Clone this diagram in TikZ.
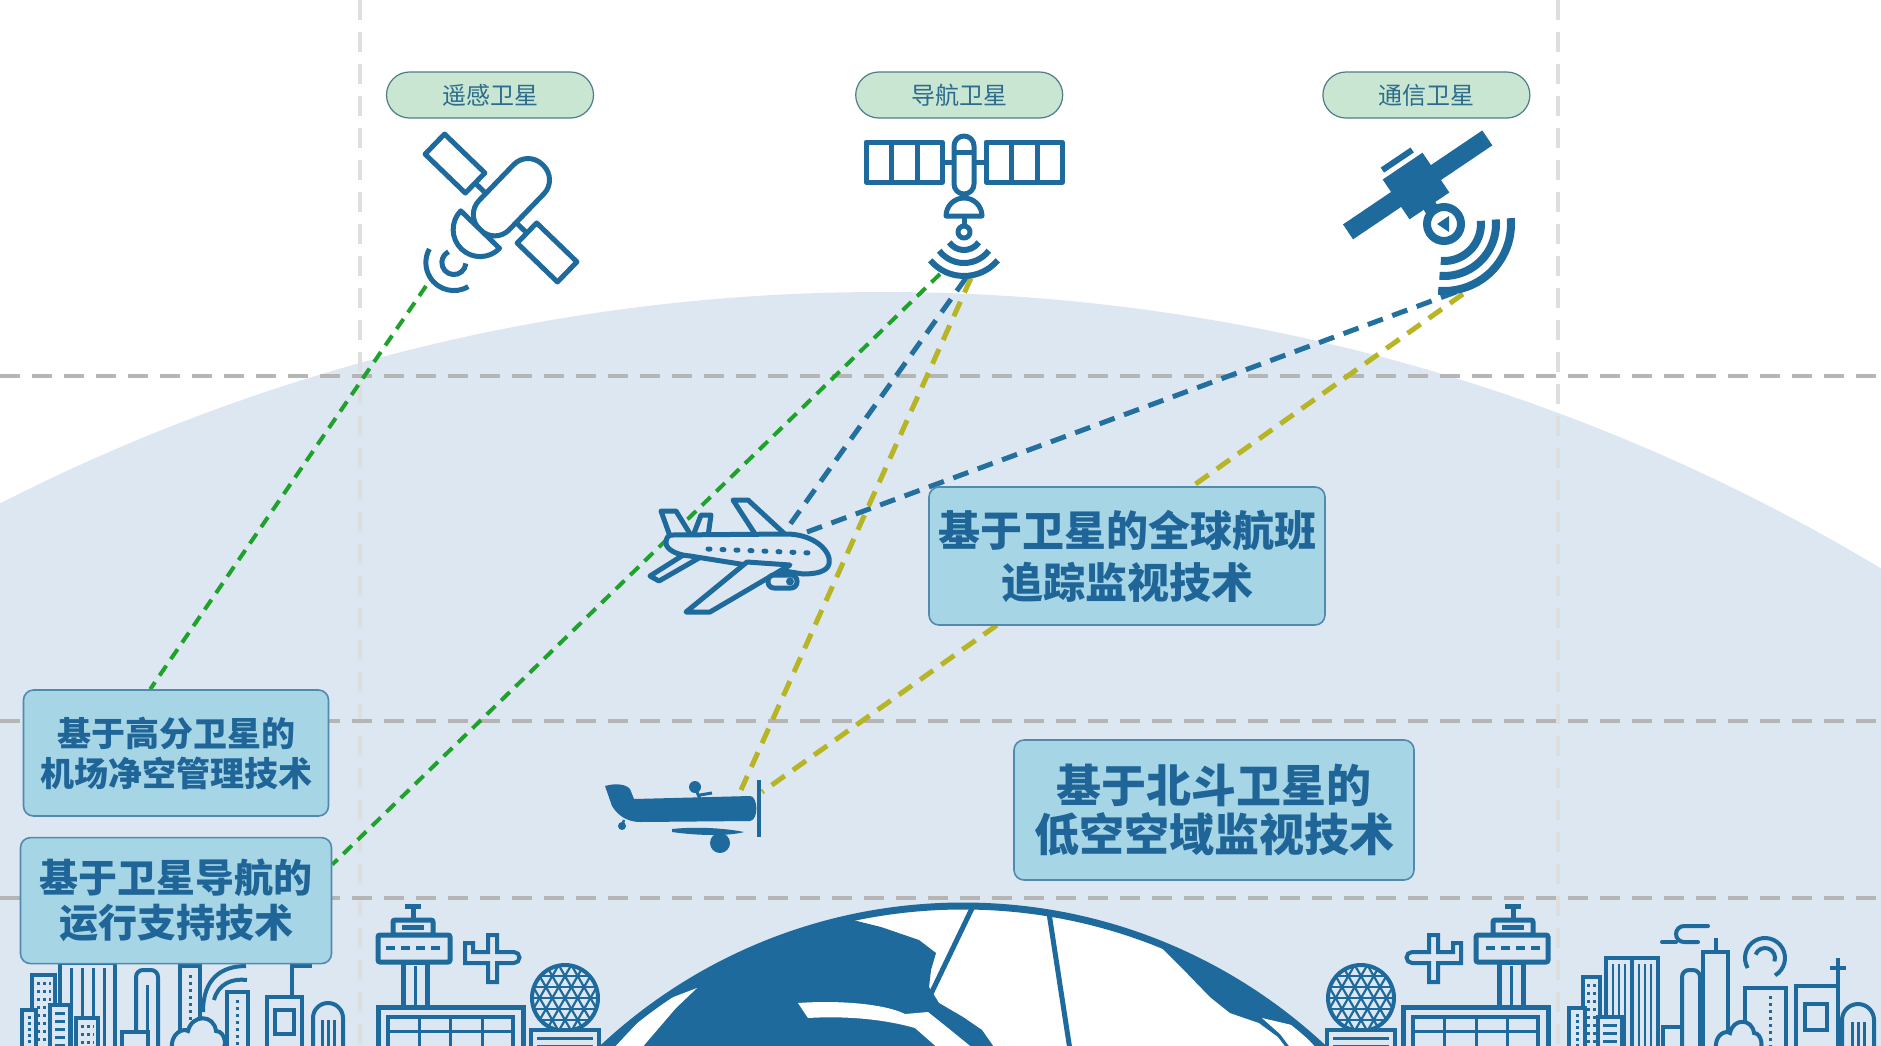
\documentclass[tikz,border=0pt]{standalone}
\usepackage{fontspec}
\newfontfamily\cjk{Noto Sans CJK SC}
\usetikzlibrary{positioning}
\pgfdeclarelayer{back}
\pgfdeclarelayer{links}
\pgfsetlayers{back,links,main}
\definecolor{sky}{HTML}{DDE7F1}
\definecolor{iconblue}{HTML}{1E6A9C}
\definecolor{techfill}{HTML}{A6D5E5}
\definecolor{techborder}{HTML}{5289AE}
\definecolor{techtext}{HTML}{1F6597}
\definecolor{pillfill}{HTML}{C8E6D1}
\definecolor{pillborder}{HTML}{4F7C8C}
\definecolor{pilltext}{HTML}{2C6C8C}
\definecolor{gridh}{HTML}{B5B5B5}
\definecolor{gridv}{HTML}{DEDEDE}
\definecolor{linkgreen}{HTML}{1FA22B}
\definecolor{linkblue}{HTML}{23709F}
\definecolor{linkolive}{HTML}{B7B426}

\begin{document}
\begin{tikzpicture}[
    x=1pt, y=-1pt,
    line join=round,
    sat/.style={draw=pillborder, fill=pillfill, line width=1.2pt, rounded corners=23pt,
                minimum width=207pt, minimum height=46pt, inner sep=0pt,
                font=\cjk\fontsize{24}{28}\selectfont, text=pilltext},
    tech/.style={draw=techborder, fill=techfill, line width=1.6pt, rounded corners=10pt,
                 inner sep=0pt, align=center, text=techtext},
    guide/.style={line width=4pt, dash pattern=on 20pt off 12pt},
    link/.style={line width=5pt, dash pattern=on 16pt off 10pt},
    icon/.style={draw=iconblue, line width=5pt, fill=sky},
    spaceicon/.style={draw=iconblue, line width=5pt, fill=white},
    city/.style={draw=iconblue, line width=4pt, fill=sky},
    win/.style={draw=iconblue, line width=3pt},
]

\useasboundingbox (0,0) rectangle (1881,1045);

\begin{pgfonlayer}{back}
\fill[white] (0,0) rectangle (1881,1045);
\begin{scope}
  \clip (0,0) rectangle (1881,1045);
  \fill[sky] (882,2233) circle[radius=1941];
\end{scope}
\foreach \x in {360,1558} \draw[guide, gridv] (\x,0) -- (\x,1045);
\foreach \y in {376,721,898} \draw[guide, gridh] (0,\y) -- (1881,\y);

% globe
\begin{scope}
  \clip (963,1434) circle[radius=528];
  \fill[white] (963,1434) circle[radius=528];
  \draw[iconblue, line width=5pt] (976,900) -- (928,1000);
  \draw[iconblue, line width=5pt] (1047,900) -- (1070,1050);
  \fill[iconblue] (845,918) -- (881,927) -- (919,940) -- (936,953) -- (931,970)
    -- (929,987) -- (939,1003) -- (963,1017) -- (982,1030) -- (996,1050)
    -- (400,1050) -- (400,900) -- cycle;
  \fill[white] (612,1050) -- (655,1004) -- (697,988) -- (676,1008) -- (640,1050) -- cycle;
  \fill[white] (798,1003) .. controls (840,1000) and (885,1004) .. (905,1014)
    -- (928,1012) -- (948,1028) -- (975,1050) -- (940,1050) -- (915,1028)
    .. controls (880,1018) and (840,1016) .. (808,1018) -- cycle;
  \fill[iconblue] (1150,940) -- (1162,948) -- (1181,967) -- (1210,997) -- (1230,1013)
    -- (1259,1023) -- (1278,1037) -- (1288,1050) -- (1600,1050) -- (1600,900) -- cycle;
  \fill[white] (1262,1018) -- (1296,1026) -- (1318,1050) -- (1292,1050) -- (1280,1034) -- cycle;
\end{scope}
\draw[iconblue, line width=7pt] (963,1434) circle[radius=528];

% airports, mirrored about the globe axis
\foreach \s in {1,-1} {
\begin{scope}[shift={(963,0)}, xscale=\s]
  % control tower
  \draw[iconblue, line width=5pt] (-558,906) -- (-542,906) (-550,906) -- (-550,920);
  \draw[icon, rounded corners=2pt] (-570,920) rectangle (-530,935);
  \fill[iconblue] (-561,925) rectangle (-539,930);
  \draw[icon, rounded corners=2pt] (-585,935) rectangle (-513,962);
  \draw[iconblue, line width=4pt, dash pattern=on 9pt off 6pt] (-577,948) -- (-520,948);
  \draw[icon] (-560,962) rectangle (-536,1007);
  \draw[win] (-548,966) -- (-548,1007);
  % terminal
  \draw[icon] (-585,1007) rectangle (-440,1055);
  \draw[city] (-575,1017) rectangle (-450,1055);
  \foreach \x in {-544,-513,-481} \draw[win] (\x,1017) -- (\x,1055);
  \draw[win] (-575,1031) -- (-450,1031);
  % small plane
  \draw[icon, line width=4pt] (-498,943) -- (-490,943) -- (-490,952) -- (-475,952)
    -- (-475,935) -- (-466,935) -- (-466,952) -- (-449,952)
    arc[start angle=-90, end angle=90, radius=5.5] -- (-466,963) -- (-466,982)
    -- (-475,982) -- (-475,963) -- (-498,963) -- cycle;
  % radar dome
  \begin{scope}
    \clip (-398,998) circle[radius=32];
    \foreach \k in {-5,...,5} {
      \draw[iconblue, line width=2.2pt] (-440,998+11*\k) -- (-356,998+11*\k);
      \draw[iconblue, line width=2.2pt] (-438+12.7*\k,928.7) -- (-358+12.7*\k,1067.3);
      \draw[iconblue, line width=2.2pt] (-438+12.7*\k,1067.3) -- (-358+12.7*\k,928.7);
    }
  \end{scope}
  \draw[iconblue, line width=4pt] (-398,998) circle[radius=33];
  \draw[city] (-432,1030) rectangle (-364,1055);
  \draw[win] (-426,1038) -- (-370,1038) (-426,1046) -- (-370,1046);
\end{scope}
}

% left skyline
\draw[city] (60,963) rectangle (115,1055);
\foreach \x in {71,82,93,104} \draw[win] (\x,968) -- (\x,1055);
\draw[city] (32,975) rectangle (55,1055);
\foreach \y in {983,991,...,1045} \draw[win, dash pattern=on 3pt off 3pt] (37,\y) -- (51,\y);
\draw[city] (22,1010) rectangle (36,1055);
\draw[win, dash pattern=on 3pt off 3pt] (29,1016) -- (29,1050);
\draw[city] (50,1005) rectangle (70,1055);
\foreach \y in {1013,1021,...,1045} \draw[win] (55,\y) -- (65,\y);
\draw[city] (76,1018) rectangle (98,1055);
\foreach \y in {1026,1034,1042} \draw[win, dash pattern=on 3pt off 3pt] (81,\y) -- (94,\y);
\draw[city, rounded corners=7pt] (136,1055) -- (136,970) -- (158,970) -- (158,1055);
\draw[win] (147,985) -- (147,1055);
\draw[city] (122,1032) rectangle (148,1055);
\draw[iconblue, line width=4pt] (203,1012) .. controls (203,978) and (222,966) .. (246,966);
\draw[iconblue, line width=4pt] (214,1000) .. controls (218,984) and (232,978) .. (247,980);
\draw[city] (180,966) rectangle (200,1055);
\draw[win, dash pattern=on 3pt off 4pt] (190,975) -- (190,1050);
\draw[city] (227,992) rectangle (248,1055);
\draw[win, dash pattern=on 3pt off 4pt] (237,1000) -- (237,1050);
\draw[city] (172,1050) .. controls (170,1032) and (184,1028) .. (188,1031)
  .. controls (192,1014) and (214,1014) .. (216,1031)
  .. controls (226,1031) and (228,1050) .. (220,1050) -- cycle;
\draw[iconblue, line width=4pt] (292,998) -- (292,966) -- (312,966);
\draw[city] (267,1055) -- (267,997) -- (302,997) -- (302,1055);
\draw[city] (275,1010) rectangle (294,1034);
\draw[city] (313,1055) -- (313,1018) arc[start angle=180, end angle=360, radius=15] -- (343,1055);
\foreach \x in {322,328,334} \draw[win] (\x,1020) -- (\x,1055);

% right skyline
\draw[iconblue, line width=4pt, line cap=round] (1708,926) -- (1684,926)
  arc[start angle=270, end angle=90, radius=8] -- (1698,942);
\draw[iconblue, line width=4pt, line cap=round] (1662,942) -- (1676,942);
\draw[city] (1606,958) rectangle (1632,1055);
\draw[city] (1632,958) rectangle (1658,1055);
\foreach \x in {1613,1619,1625,1639,1645,1651} \draw[win, line width=2.5pt] (\x,964) -- (\x,1055);
\draw[city] (1583,977) rectangle (1600,1055);
\foreach \y in {985,993,...,1045} \draw[win, dash pattern=on 3pt off 3pt] (1587,\y) -- (1597,\y);
\draw[city] (1569,1008) rectangle (1585,1055);
\draw[win, dash pattern=on 3pt off 3pt] (1577,1014) -- (1577,1050);
\draw[city] (1598,1017) rectangle (1622,1055);
\foreach \y in {1025,1033,1041} \draw[win] (1603,\y) -- (1617,\y);
\draw[city, rounded corners=7pt] (1682,1055) -- (1682,970) -- (1700,970) -- (1700,1055);
\draw[city] (1663,1027) rectangle (1682,1055);
\draw[iconblue, line width=4pt] (1716,952) -- (1716,938);
\draw[city] (1703,952) rectangle (1728,1055);
\draw[iconblue, line width=4pt] (1765,958) ++(150:20) arc[start angle=150, end angle=420, radius=20];
\draw[iconblue, line width=4pt] (1765,958) ++(200:10) arc[start angle=200, end angle=380, radius=10];
\draw[city] (1745,988) rectangle (1786,1055);
\draw[win, dash pattern=on 3pt off 4pt] (1770,996) -- (1770,1050);
\draw[city] (1716,1050) .. controls (1714,1034) and (1726,1030) .. (1730,1033)
  .. controls (1733,1018) and (1752,1018) .. (1754,1033)
  .. controls (1762,1033) and (1764,1050) .. (1758,1050) -- cycle;
\draw[iconblue, line width=4pt] (1838,986) -- (1838,958) (1830,968) -- (1846,968);
\draw[city] (1796,1055) -- (1796,986) -- (1838,986) -- (1838,1055);
\draw[city] (1805,1004) rectangle (1827,1030);
\draw[city] (1842,1055) -- (1842,1020) arc[start angle=180, end angle=360, radius=16] -- (1874,1055);
\foreach \x in {1852,1858,1864} \draw[win] (\x,1022) -- (\x,1055);
\end{pgfonlayer}

% satellite labels
\node[sat] (rsl) at (490,95) {遥感卫星};
\node[sat, right=261pt of rsl] (navl) {导航卫星};
\node[sat, right=259pt of navl] (coml) {通信卫星};

% remote sensing satellite
\begin{scope}[shift={(501,208)}, rotate=-44]
  \draw[spaceicon] (-92,-14) rectangle (-36,14);
  \draw[spaceicon] (36,-14) rectangle (92,14);
  \draw[spaceicon] (-36,0) -- (-21,0) (21,0) -- (36,0);
  \draw[spaceicon, rounded corners=20pt] (-21,-60) rectangle (21,30);
  \draw[spaceicon] (-27,30) arc[start angle=180, end angle=0, radius=27] -- cycle;
  \draw[iconblue, line width=5pt] (4,72) ++(-40:12) arc[start angle=-40, end angle=200, radius=12];
  \draw[iconblue, line width=5pt] (4,72) ++(15:28) arc[start angle=15, end angle=165, radius=28];
\end{scope}
\coordinate (rsend) at (426,286);

% navigation satellite
\begin{scope}[shift={(964,0)}]
  \draw[spaceicon] (-98,142) rectangle (-22,182);
  \draw[spaceicon] (-73,142) -- (-73,182) (-47,142) -- (-47,182);
  \draw[spaceicon] (22,142) rectangle (98,182);
  \draw[spaceicon] (47,142) -- (47,182) (73,142) -- (73,182);
  \draw[spaceicon] (-22,162) -- (-10,162) (10,162) -- (22,162);
  \draw[spaceicon, rounded corners=10pt] (-10,136) rectangle (10,194);
  \draw[spaceicon] (-10,152) -- (10,152);
  \draw[spaceicon] (0,194) -- (0,200);
  \draw[spaceicon] (-18,216) arc[start angle=180, end angle=360, radius=18] -- cycle;
  \draw[spaceicon] (0,216) -- (0,226);
  \draw[spaceicon] (0,232) circle[radius=6];
  \foreach \r/\a in {18/35, 31/37, 44/40}
    \draw[iconblue, line width=6pt] (0,232) ++(\a:\r) arc[start angle=\a, end angle=180-\a, radius=\r];
\end{scope}
\coordinate (navg) at (940,274);
\coordinate (navb) at (966,278);
\coordinate (navo) at (971,278);

% communication satellite
\begin{scope}[shift={(1416,186)}, rotate=34]
  \fill[iconblue] (-82,-9) rectangle (86,9);
  \fill[iconblue] (-24,-24) rectangle (24,24);
  \fill[iconblue] (-19,-35) rectangle (17,-29);
  \fill[iconblue] (-7,20) rectangle (7,34);
\end{scope}
\draw[iconblue, line width=8pt] (1444,224) circle[radius=17];
\fill[iconblue] (1437,224) -- (1449,216) -- (1449,232) -- cycle;
\foreach \r in {37,52,67}
  \draw[iconblue, line width=8pt] (1444,224) ++(-5:\r) arc[start angle=-5, end angle=95, radius=\r];
\coordinate (comb) at (1456,292);
\coordinate (como) at (1463,294);

% technique boxes
\node[tech, minimum width=305pt, minimum height=126pt,
      font=\cjk\bfseries\fontsize{34}{40}\selectfont] (boxA) at (176,753)
      {基于高分卫星的\\机场净空管理技术};
\node[tech, minimum width=311pt, minimum height=126pt, below=20pt of boxA,
      font=\cjk\bfseries\fontsize{39}{45}\selectfont] (boxB)
      {基于卫星导航的\\运行支持技术};
\node[tech, minimum width=396pt, minimum height=138pt,
      font=\cjk\bfseries\fontsize{42}{52}\selectfont] (boxC) at (1127,556)
      {基于卫星的全球航班\\追踪监视技术};
\node[tech, minimum width=400pt, minimum height=140pt,
      font=\cjk\bfseries\fontsize{45}{49}\selectfont] (boxD) at (1214,810)
      {基于北斗卫星的\\低空空域监视技术};

% airliner
\draw[icon] (733,500) -- (748,500) -- (788,537) -- (757,537) -- cycle;
\draw[icon] (661,511) -- (676,511) -- (692,537) -- (671,539) -- cycle;
\draw[icon] (701,515) -- (711,515) -- (708,536) -- (693,536) -- cycle;
\draw[icon] (688,552) -- (699,558) -- (659,581) -- (650,576) -- cycle;
\draw[icon] (672,535) -- (786,534) .. controls (815,534) and (832,552) .. (829,564)
  .. controls (827,572) and (815,574) .. (803,574) -- (690,556)
  .. controls (676,555) and (666,549) .. (666,543) .. controls (666,538) and (668,535) .. cycle;
\draw[icon] (747,562) -- (790,565) -- (710,612) -- (686,612) -- cycle;
\draw[icon, rounded corners=6pt] (768,575) rectangle (797,588);
\fill[iconblue] (790,581.5) circle[radius=4];
\draw[iconblue, line width=5pt, line cap=round, dash pattern=on 2pt off 12pt] (708,549) -- (812,553);
\coordinate (jetl) at (786,530);
\coordinate (jetr) at (807,532);

% propeller plane
\fill[iconblue] (605,786) .. controls (615,783) and (626,784) .. (630,789) -- (634,799)
  -- (750,796) .. controls (758,796) and (759,820) .. (750,821) -- (640,822)
  .. controls (628,822) and (618,816) .. (612,806) -- cycle;
\fill[iconblue] (672,829) .. controls (700,826) and (730,829) .. (744,832)
  .. controls (730,836) and (700,836) .. (672,832) -- cycle;
\fill[iconblue] (695,787) circle[radius=6];
\draw[iconblue, line width=3pt] (697,792) -- (700,799) (700,795) -- (712,793);
\draw[iconblue, line width=2.5pt] (624,820) -- (622,826);
\fill[iconblue] (622,826) circle[radius=4];
\fill[iconblue] (720,843) circle[radius=10];
\draw[iconblue, line width=4pt] (759,780) -- (759,837);
\coordinate (propl) at (741,790);
\coordinate (propr) at (762,792);

% satellite links
\begin{pgfonlayer}{links}
\draw[link, linkgreen, line width=4pt, dash pattern=on 12pt off 8pt] (rsend) -- (boxA.112);
\draw[link, linkgreen, line width=4pt, dash pattern=on 12pt off 8pt] (navg) -- (boxB.13);
\draw[link, linkblue] (navb) -- (jetl);
\draw[link, linkblue] (comb) -- (jetr);
\draw[link, linkolive] (navo) -- (propl);
\draw[link, linkolive] (como) -- (propr);
\end{pgfonlayer}

\end{tikzpicture}
\end{document}
